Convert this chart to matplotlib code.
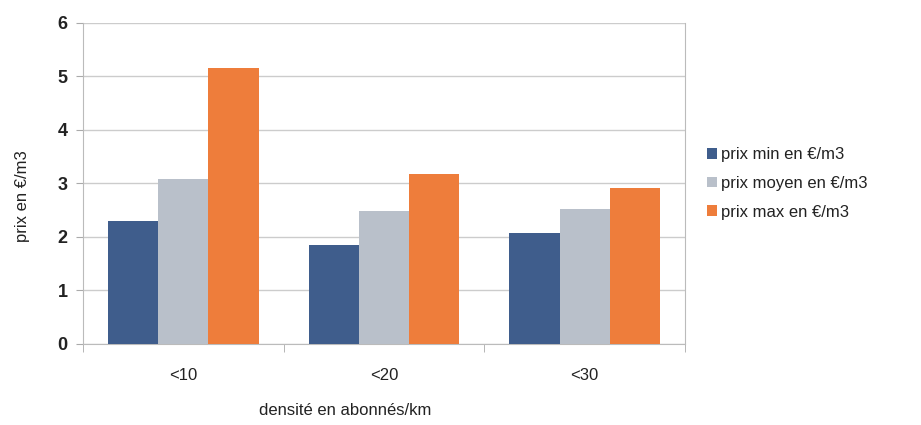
import matplotlib
matplotlib.use("Agg")
import matplotlib.pyplot as plt
import numpy as np

plt.rcParams['font.family'] = ['Liberation Sans', 'DejaVu Sans']

categories = ["<10", "<20", "<30"]
series_names = ["prix min en €/m3", "prix moyen en €/m3", "prix max en €/m3"]
prix_min = [2.30, 1.85, 2.07]
prix_moyen = [3.08, 2.49, 2.53]
prix_max = [5.16, 3.17, 2.92]
colors = ["#3f5d8c", "#b9c0ca", "#ee7d3b"]

fig = plt.figure(figsize=(9.21, 4.25), dpi=100)
ax = fig.add_axes([0.0901, 0.1906, 0.6537, 0.7553])

x = np.arange(len(categories))
w = 0.25
for i, (vals, name, c) in enumerate(zip([prix_min, prix_moyen, prix_max], series_names, colors)):
    ax.bar(x + (i - 1) * w, vals, width=w, color=c, label=name, zorder=3)

ax.set_xlim(-0.5, len(categories) - 0.5)
ax.set_ylim(0, 6)
ax.set_yticks(range(0, 7))
ax.set_yticklabels([str(v) for v in range(0, 7)], fontsize=13, fontweight='bold', color='#222222')
ax.set_xticks(x)
ax.set_xticklabels(categories, fontsize=12, color='#222222')
ax.set_xticks(np.arange(-0.5, len(categories)), minor=True)
ax.tick_params(axis='x', which='major', length=0, pad=17)
ax.tick_params(axis='x', which='minor', length=6, color='#aaaaaa', direction='out')
ax.tick_params(axis='y', length=5, color='#aaaaaa', pad=6)

ax.yaxis.grid(True, color='#cccccc', linewidth=1, zorder=0)
for s in ax.spines.values():
    s.set_color('#bbbbbb')
ax.spines['top'].set_visible(False)

ax.set_ylabel("prix en €/m3", fontsize=12, color='#222222')
ax.yaxis.set_label_coords(-0.088, 0.461)
ax.set_xlabel("densité en abonnés/km", fontsize=12, color='#222222')
ax.xaxis.set_label_coords(0.435, -0.184)

ax.legend(loc='center left', bbox_to_anchor=(1.012, 0.50), frameon=False,
          fontsize=12, handlelength=0.6, handleheight=0.6, handletextpad=0.2,
          labelspacing=0.82, labelcolor='#222222')

fig.savefig("out.png", dpi=100, facecolor='white')
